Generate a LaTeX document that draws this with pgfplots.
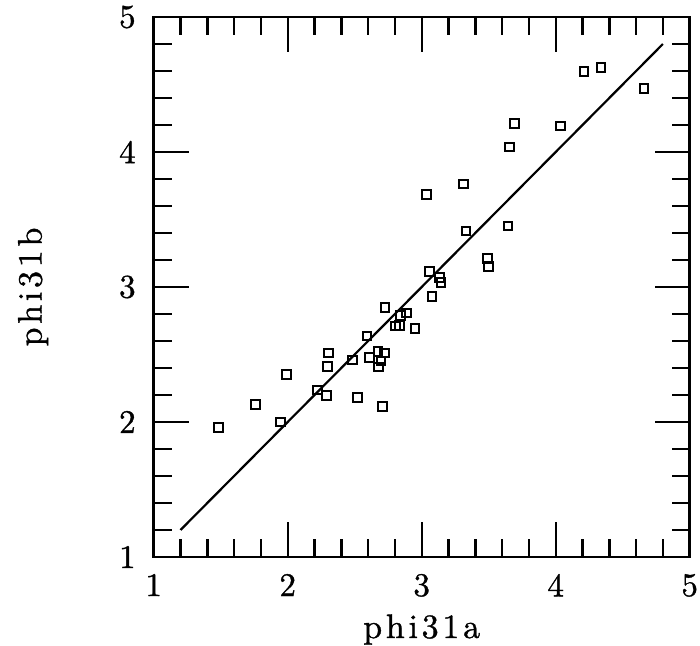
\documentclass[border=0pt]{standalone}
\usepackage{fontspec}
\newfontfamily\labfont{lmroman10-regular.otf}[LetterSpace=11, FakeBold=1]
\newfontfamily\tickfont{lmroman10-regular.otf}[FakeBold=1]
\usepackage{pgfplots}
\pgfplotsset{compat=1.18}

\pgfplotstableread{
x y
1.485 1.961
1.761 2.128
1.948 2.000
1.993 2.353
2.224 2.237
2.291 2.195
2.306 2.511
2.299 2.413
2.484 2.459
2.522 2.183
2.592 2.637
2.609 2.479
2.674 2.522
2.722 2.511
2.696 2.452
2.675 2.407
2.709 2.113
2.726 2.847
2.843 2.789
2.885 2.807
2.804 2.711
2.836 2.716
2.950 2.694
3.077 2.928
3.057 3.115
3.133 3.072
3.144 3.031
3.037 3.687
3.310 3.763
3.331 3.415
3.491 3.211
3.497 3.153
3.644 3.452
3.654 4.037
3.691 4.213
4.037 4.193
4.211 4.595
4.338 4.627
4.659 4.469
}\phidata

\begin{document}
\begin{tikzpicture}
\begin{axis}[
  name=ax,
  scale only axis,
  width=268pt, height=270pt,
  xmin=1, xmax=5, ymin=1, ymax=5,
  xtick={1,2,3,4,5}, ytick={1,2,3,4,5},
  minor tick num=4,
  tick align=inside,
  major tick length=17.5pt,
  minor tick length=9pt,
  every tick/.style={black, line width=1.2pt},
  axis line style={line width=1.3pt},
  /pgf/number format/assume math mode=true,
  tick label style={font=\tickfont\fontsize{16.5}{18}\selectfont},
  xticklabel style={yshift=-5pt},
  yticklabel style={xshift=-5.5pt},
  xlabel={phi31a}, ylabel={phi31b},
  label style={font=\labfont\fontsize{17}{19}\selectfont},
  xlabel style={at={(axis description cs:0.5,-0.15)}, anchor=base},
  ylabel style={at={(axis description cs:-0.225,0.5)}, anchor=center},
]
% measured points
\addplot[only marks, mark=square, mark size=2.2pt, mark options={line width=1pt}] table {\phidata};
% one-to-one line
\addplot[line width=1.1pt, no marks] coordinates {(1.2,1.2) (4.8,4.8)};
\end{axis}
\pgfresetboundingbox
\path[use as bounding box] ([shift={(-76.85pt,-44.5pt)}]ax.south west) rectangle ([shift={(273.15pt,278.5pt)}]ax.south west);
\end{tikzpicture}
\end{document}
